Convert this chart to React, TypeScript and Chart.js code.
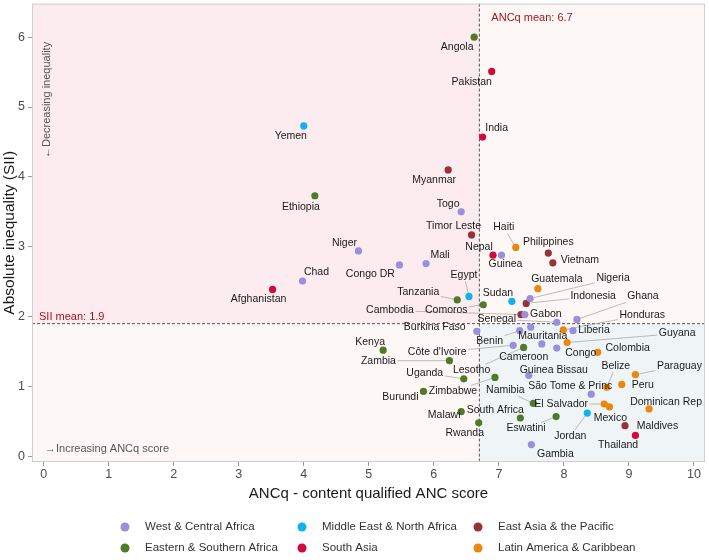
import React, { useEffect, useRef } from "react";
import { Chart, registerables } from "chart.js";
Chart.register(...registerables);

const FONT = "'Liberation Sans', Arial, sans-serif";

const ANCQ_MEAN = 6.7;
const SII_MEAN = 1.9;

const xTicks = [0, 1, 2, 3, 4, 5, 6, 7, 8, 9, 10];
const yTicks = [0, 1, 2, 3, 4, 5, 6];

// West & Central Africa
const wcaCountries = ["Togo", "Guinea", "Niger", "Congo DR", "Mali", "Chad", "Gabon", "Nigeria", "Ghana", "Senegal", "Liberia", "Burkina Faso", "Benin", "Mauritania", "Côte d'Ivoire", "Cameroon", "Congo", "Guinea Bissau", "São Tome & Princ", "Gambia"];
const wcaAncq = [6.42, 7.04, 4.84, 5.47, 5.88, 3.98, 7.40, 7.48, 8.20, 7.89, 8.14, 6.66, 7.32, 7.49, 7.22, 7.66, 7.89, 7.46, 8.42, 7.50];
const wcaSii = [3.50, 2.88, 2.94, 2.74, 2.76, 2.51, 2.03, 2.26, 1.96, 1.92, 1.80, 1.79, 1.80, 1.85, 1.59, 1.61, 1.55, 1.16, 0.89, 0.17];

// Eastern & Southern Africa
const esaCountries = ["Angola", "Ethiopia", "Tanzania", "Comoros", "Kenya", "Zambia", "Lesotho", "Uganda", "Zimbabwe", "Burundi", "Namibia", "Malawi", "South Africa", "Eswatini", "Rwanda"];
const esaAncq = [6.62, 4.17, 6.36, 6.76, 5.22, 6.24, 7.38, 6.46, 6.94, 5.84, 7.53, 6.42, 7.33, 7.88, 6.69];
const esaSii = [6.00, 3.73, 2.24, 2.17, 1.52, 1.37, 1.56, 1.11, 1.13, 0.93, 0.76, 0.64, 0.55, 0.57, 0.48];

// Middle East & North Africa
const menaCountries = ["Yemen", "Egypt", "Sudan", "Jordan"];
const menaAncq = [4.00, 6.54, 7.20, 8.36];
const menaSii = [4.73, 2.29, 2.22, 0.62];

// South Asia
const saCountries = ["Pakistan", "India", "Nepal", "Afghanistan", "Maldives"];
const saAncq = [6.89, 6.75, 6.91, 3.52, 9.10];
const saSii = [5.51, 4.57, 2.88, 2.39, 0.30];

// East Asia & the Pacific
const eapCountries = ["Myanmar", "Timor Leste", "Philippines", "Vietnam", "Cambodia", "Indonesia", "Thailand"];
const eapAncq = [6.22, 6.58, 7.76, 7.83, 7.34, 7.42, 8.94];
const eapSii = [4.10, 3.17, 2.91, 2.77, 2.03, 2.19, 0.44];

// Latin America & Caribbean
const lacCountries = ["Haiti", "Guatemala", "Honduras", "Guyana", "Colombia", "Belize", "Peru", "Paraguay", "El Salvador", "Mexico", "Dominican Rep"];
const lacAncq = [7.26, 7.60, 7.99, 8.05, 8.52, 8.66, 8.89, 9.10, 8.62, 8.70, 9.31];
const lacSii = [2.99, 2.40, 1.81, 1.63, 1.49, 0.99, 1.03, 1.17, 0.75, 0.71, 0.68];

const regionNames = ["West & Central Africa", "Eastern & Southern Africa", "Middle East & North Africa", "South Asia", "East Asia & the Pacific", "Latin America & Caribbean"];
const regionColors = ["#9a8fdc", "#4e7a29", "#0fb2ee", "#d2093b", "#963238", "#ea870f"];

// label placement (pixel offsets of label centre from point; third = leader line)
const labelOffsets: Record<string, [number, number, boolean?]> = {
  "Angola": [-17, 10], "Pakistan": [-20, 11], "Yemen": [-13, 10], "India": [14, -9],
  "Myanmar": [-14, 10], "Ethiopia": [-14, 11], "Togo": [-13, -8], "Timor Leste": [-18, -9],
  "Haiti": [-12, -20, true], "Philippines": [0, -11], "Vietnam": [27, -3], "Nepal": [-14, -8],
  "Guinea": [4, 9], "Niger": [-14, -8], "Congo DR": [-29, 9], "Mali": [14, -8],
  "Chad": [14, -9], "Afghanistan": [-14, 10], "Egypt": [-5, -21, true], "Tanzania": [-39, -8, true],
  "Sudan": [-14, -8], "Comoros": [-37, 5, true], "Cambodia": [-131, -4, true], "Gabon": [21, 0],
  "Senegal": [-60, -3, true], "Nigeria": [83, -20, true], "Indonesia": [67, -7, true], "Guatemala": [19, -10],
  "Ghana": [66, -23, true], "Honduras": [79, -15, true], "Liberia": [21, -1], "Guyana": [110, -9, true],
  "Burkina Faso": [-42, -4], "Benin": [-30, 10, true], "Mauritania": [12, 9], "Côte d'Ivoire": [-76, 7, true],
  "Cameroon": [-18, 13], "Congo": [24, 5], "Colombia": [30, -4], "Kenya": [-13, -8],
  "Zambia": [-71, 0, true], "Lesotho": [-52, 23, true], "Uganda": [-39, -6, true], "Guinea Bissau": [25, -5],
  "Zimbabwe": [-42, 14, true], "Burundi": [-23, 6], "Namibia": [-28, -13, true], "Belize": [9, -21, true],
  "Paraguay": [44, -9, true], "São Tome & Princ": [-21, -8], "Peru": [21, 1], "El Salvador": [-43, 0, true],
  "Dominican Rep": [17, -7], "Mexico": [1, 11], "Jordan": [-17, 23, true], "Maldives": [22, -9],
  "Thailand": [-7, 19], "Malawi": [-17, 3], "South Africa": [-25, -8], "Eswatini": [-30, 12, true],
  "Rwanda": [-14, 10], "Gambia": [24, 10],
};

const groups = [
  [wcaCountries, wcaAncq, wcaSii],
  [esaCountries, esaAncq, esaSii],
  [menaCountries, menaAncq, menaSii],
  [saCountries, saAncq, saSii],
  [eapCountries, eapAncq, eapSii],
  [lacCountries, lacAncq, lacSii],
] as [string[], number[], number[]][];

const quadrantPlugin = {
  id: "quadrants",
  beforeDraw(chart: any) {
    const { ctx, chartArea: a, scales } = chart;
    const mx = scales.x.getPixelForValue(ANCQ_MEAN);
    const my = scales.y.getPixelForValue(SII_MEAN);
    ctx.save();
    ctx.fillStyle = "#fcebef";
    ctx.fillRect(a.left, a.top, mx - a.left, my - a.top);
    ctx.fillStyle = "#fdf8f6";
    ctx.fillRect(mx, a.top, a.right - mx, my - a.top);
    ctx.fillRect(a.left, my, mx - a.left, a.bottom - my);
    ctx.fillStyle = "#eff4f7";
    ctx.fillRect(mx, my, a.right - mx, a.bottom - my);
    ctx.restore();
  },
  beforeDatasetsDraw(chart: any) {
    const { ctx, chartArea: a, scales } = chart;
    const mx = scales.x.getPixelForValue(ANCQ_MEAN);
    const my = scales.y.getPixelForValue(SII_MEAN);
    ctx.save();
    ctx.strokeStyle = "#555";
    ctx.lineWidth = 1;
    ctx.setLineDash([3, 2]);
    ctx.beginPath();
    ctx.moveTo(mx, a.top);
    ctx.lineTo(mx, a.bottom);
    ctx.moveTo(a.left, my);
    ctx.lineTo(a.right, my);
    ctx.stroke();
    ctx.setLineDash([]);
    // annotation texts
    ctx.font = `11px ${FONT}`;
    ctx.textBaseline = "middle";
    ctx.textAlign = "left";
    ctx.fillStyle = "#a8141c";
    ctx.fillText(`ANCq mean: ${ANCQ_MEAN}`, mx + 12, scales.y.getPixelForValue(6.28));
    ctx.fillText(`SII mean: ${SII_MEAN}`, a.left + 7, my - 7);
    ctx.fillStyle = "#555";
    ctx.fillText("→Increasing ANCq score", a.left + 13, scales.y.getPixelForValue(0) - 7);
    ctx.save();
    ctx.translate(a.left + 15, scales.y.getPixelForValue(4.27));
    ctx.rotate(-Math.PI / 2);
    ctx.fillText("←Decreasing inequality", 0, 0);
    ctx.restore();

    // leader segments
    ctx.font = `10.5px ${FONT}`;
    ctx.strokeStyle = "#a0a0a0";
    ctx.lineWidth = 0.7;
    chart.data.datasets.forEach((ds: any, di: number) => {
      const meta = chart.getDatasetMeta(di);
      ds.data.forEach((d: any, i: number) => {
        const off = labelOffsets[d.label];
        if (!off || !off[2]) return;
        const el = meta.data[i];
        const px = el.x, py = el.y;
        const cx = px + off[0], cy = py + off[1];
        const w = ctx.measureText(d.label).width / 2 + 1.5;
        const h = 6;
        const dx = px - cx, dy = py - cy;
        const tx = dx !== 0 ? w / Math.abs(dx) : Infinity;
        const ty = dy !== 0 ? h / Math.abs(dy) : Infinity;
        const t = Math.min(tx, ty);
        if (t >= 1) return;
        const sx = cx + dx * t, sy = cy + dy * t;
        const len = Math.hypot(px - sx, py - sy);
        if (len < 5) return;
        const ex = px - ((px - sx) / len) * 3.5, ey = py - ((py - sy) / len) * 3.5;
        ctx.beginPath();
        ctx.moveTo(sx, sy);
        ctx.lineTo(ex, ey);
        ctx.stroke();
      });
    });
    ctx.restore();
  },
  afterDatasetsDraw(chart: any) {
    const { ctx } = chart;
    ctx.save();
    ctx.font = `10.5px ${FONT}`;
    ctx.fillStyle = "#1a1a1a";
    ctx.textAlign = "center";
    ctx.textBaseline = "middle";
    chart.data.datasets.forEach((ds: any, di: number) => {
      const meta = chart.getDatasetMeta(di);
      ds.data.forEach((d: any, i: number) => {
        const off = labelOffsets[d.label] || [0, -10];
        const el = meta.data[i];
        ctx.fillText(d.label, el.x + off[0], el.y + off[1]);
      });
    });
    ctx.restore();
  },
  afterDraw(chart: any) {
    const { ctx, chartArea: a } = chart;
    ctx.save();
    ctx.strokeStyle = "#cfcfcf";
    ctx.lineWidth = 1;
    ctx.strokeRect(a.left + 0.5, a.top + 0.5, a.right - a.left - 1, a.bottom - a.top - 1);
    // legend
    const colX = [125, 302, 478];
    const rowY = [527, 548];
    ctx.font = `11.5px ${FONT}`;
    ctx.textAlign = "left";
    ctx.textBaseline = "middle";
    regionNames.forEach((name, k) => {
      const c = Math.floor(k / 2), r = k % 2;
      ctx.fillStyle = regionColors[k];
      ctx.beginPath();
      ctx.arc(colX[c], rowY[r], 4.5, 0, Math.PI * 2);
      ctx.fill();
      ctx.fillStyle = "#333";
      ctx.fillText(name, colX[c] + 20, rowY[r]);
    });
    ctx.restore();
  },
};

export default function App() {
  const ref = useRef<HTMLCanvasElement>(null);
  useEffect(() => {
    document.body.style.margin = "0";
    if (!ref.current) return;
    const datasets = groups.map(([names, xs, ys], k) => ({
      label: regionNames[k],
      data: names.map((n, i) => ({ x: xs[i], y: ys[i], label: n })),
      backgroundColor: regionColors[k],
      borderWidth: 0,
      pointRadius: 3.6,
      pointHoverRadius: 3.6,
    }));
    const chart = new Chart(ref.current, {
      type: "scatter",
      data: { datasets },
      plugins: [quadrantPlugin],
      options: {
        responsive: false,
        animation: false,
        events: [],
        layout: { padding: { left: 0, top: -2, right: 4, bottom: 53 } },
        plugins: { legend: { display: false }, tooltip: { enabled: false } },
        scales: {
          x: {
            type: "linear",
            min: -0.18,
            max: 10.17,
            afterBuildTicks: (s: any) => { s.ticks = xTicks.map((v) => ({ value: v })); },
            afterFit: (s: any) => { s.height = 45; s.paddingLeft = 0; s.paddingRight = 0; },
            grid: { display: true, drawOnChartArea: false, drawTicks: true, tickLength: 4, color: "#9a9a9a" },
            border: { display: false },
            ticks: { color: "#4d4d4d", font: { family: FONT, size: 12.5 }, padding: 1, maxRotation: 0 },
            title: { display: true, text: "ANCq - content qualified ANC score", color: "#1a1a1a", font: { family: FONT, size: 15 }, padding: { top: 0, bottom: 4 } },
          },
          y: {
            type: "linear",
            min: -0.08,
            max: 6.48,
            afterBuildTicks: (s: any) => { s.ticks = yTicks.map((v) => ({ value: v })); },
            afterFit: (s: any) => { s.width = 32; s.paddingTop = 0; s.paddingBottom = 0; },
            grid: { display: true, drawOnChartArea: false, drawTicks: true, tickLength: 4, color: "#9a9a9a" },
            border: { display: false },
            ticks: { color: "#4d4d4d", font: { family: FONT, size: 12.5 }, padding: 3 },
            title: { display: true, text: "Absolute inequality (SII)", color: "#1a1a1a", font: { family: FONT, size: 15.5 }, padding: { top: 0, bottom: 0 } },
          },
        },
      },
    });
    return () => chart.destroy();
  }, []);
  return (
    <div style={{ width: 709, height: 560 }}>
      <canvas ref={ref} width={709} height={560} />
    </div>
  );
}
